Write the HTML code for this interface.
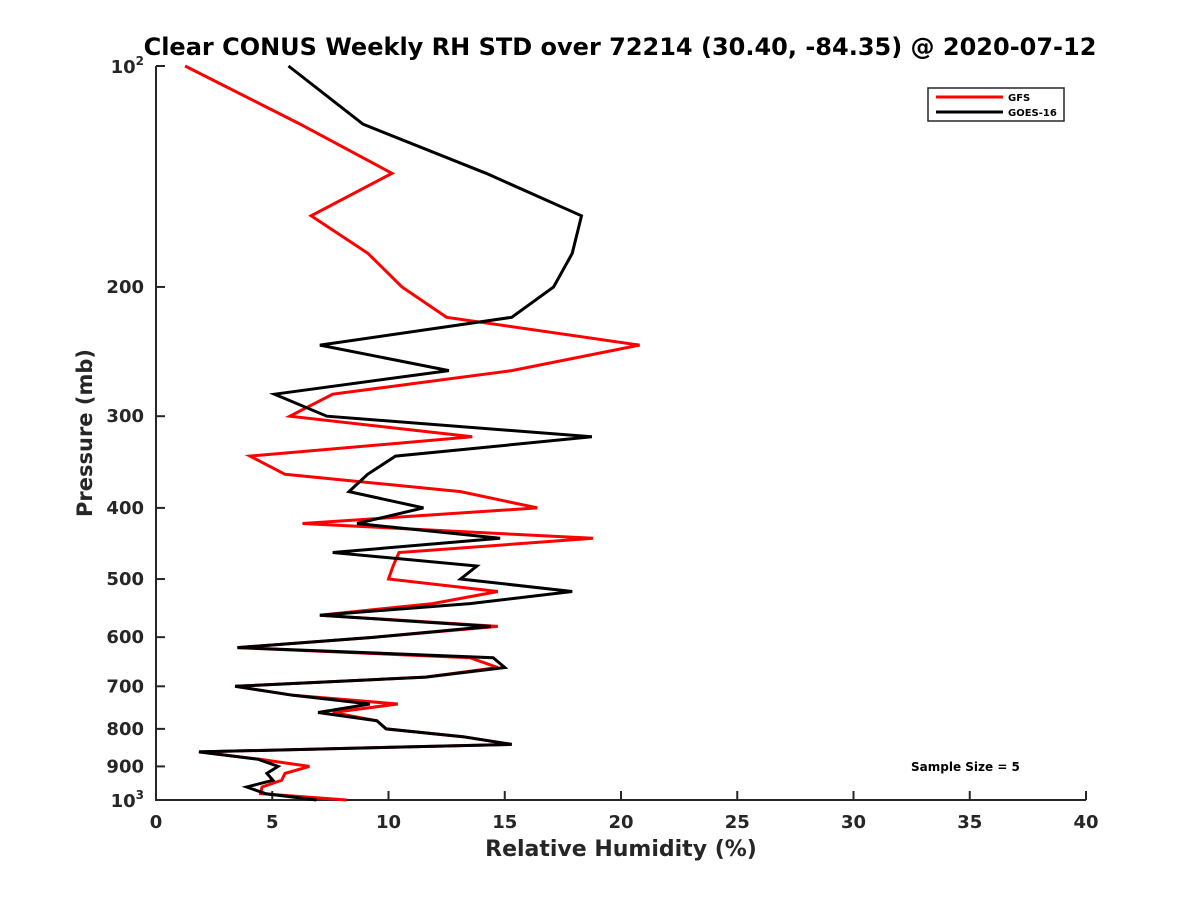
<!DOCTYPE html>
<html><head><meta charset="utf-8"><style>
body{margin:0;background:#fff;}
svg{display:block;font-family:"DejaVu Sans","Liberation Sans",sans-serif;font-weight:bold;}
</style></head><body>
<svg id="chart" width="1200" height="900" xmlns="http://www.w3.org/2000/svg"></svg>
<script>
const pressures=[100,120,140,160,180,200,220,240,260,280,300,320,340,360,380,400,420,440,460,480,500,520,540,560,580,600,620,640,660,680,700,720,740,760,780,800,820,840,860,880,900,920,940,960,980,1000];
const gfsValues=[1.25,6.2,10.15,6.67,9.12,10.58,12.5,20.8,15.3,7.6,5.76,13.6,4.04,5.55,13.1,16.4,6.3,18.8,10.45,10.2,10.0,14.7,11.9,7.05,14.7,9.4,3.5,13.5,14.7,11.6,3.4,5.9,10.4,7.6,9.5,9.9,13.2,15.3,1.85,4.47,6.6,5.55,5.4,4.56,4.5,8.2];
const goesValues=[5.7,8.9,14.2,18.3,17.9,17.1,15.3,7.05,12.6,5.1,7.35,18.75,10.3,9.1,8.3,11.5,8.65,14.8,7.6,13.8,13.1,17.9,13.5,7.05,14.4,9.4,3.5,14.5,15.0,11.6,3.4,5.9,9.2,6.97,9.5,9.9,13.2,15.3,1.85,4.4,5.25,4.77,5.03,3.9,4.7,6.9];
const xTicks=[0,5,10,15,20,25,30,35,40];
const yTicks=[200,300,400,500,600,700,800,900];

const NS="http://www.w3.org/2000/svg";
const svg=document.getElementById('chart');
const L=156,R=1086,T=66,B=800;
const xs=v=>L+(v-0)/(40-0)*(R-L);
const ys=p=>T+(Math.log10(p)-2)*(B-T);
function mk(tag,attrs,parent){const e=document.createElementNS(NS,tag);for(const k in attrs)e.setAttribute(k,attrs[k]);(parent||svg).appendChild(e);return e;}

let t=mk('text',{x:620,y:55,'text-anchor':'middle','font-size':24,fill:'#000'});


t.textContent='Clear CONUS Weekly RH STD over 72214 (30.40, -84.35) @ 2020-07-12';

const ax=mk('g',{stroke:'#262626','stroke-width':2,fill:'none'});


mk('line',{x1:L,y1:T,x2:L,y2:B+1},ax);
mk('line',{x1:L-1,y1:B,x2:R,y2:B},ax);
xTicks.forEach(v=>{
  mk('line',{x1:xs(v),y1:B,x2:xs(v),y2:B-9},ax);
  const l=mk('text',{x:xs(v),y:B+28,'text-anchor':'middle','font-size':18,fill:'#262626'});
  
  
  l.textContent=v;
});
[100].concat(yTicks,[1000]).forEach(p=>{
  mk('line',{x1:L,y1:ys(p),x2:L+9,y2:ys(p)},ax);
});
yTicks.forEach(p=>{
  const l=mk('text',{x:L-12,y:ys(p)+6,'text-anchor':'end','font-size':18,fill:'#262626'});
  
  
  l.textContent=p;
});
[[100,'2'],[1000,'3']].forEach(([p,e])=>{
  const l=mk('text',{x:L-12,y:ys(p)+7,'text-anchor':'end','font-size':18,fill:'#262626'});
  
  
  l.innerHTML='10<tspan dy="-8" font-size="12">'+e+'</tspan>';
});
let xl=mk('text',{x:621,y:856,'text-anchor':'middle','font-size':22,fill:'#262626'});


xl.textContent='Relative Humidity (%)';
let yl=mk('text',{x:92,y:433,'text-anchor':'middle','font-size':21,fill:'#262626',transform:'rotate(-90 92 433)'});


yl.textContent='Pressure (mb)';

function series(vals,color,name){
  const d=vals.map((v,i)=>(i?'L':'M')+xs(v).toFixed(1)+','+ys(pressures[i]).toFixed(1)).join(' ');
  const p=mk('path',{d:d,fill:'none',stroke:color,'stroke-width':3,'stroke-linejoin':'miter'});
  
  
}
series(gfsValues,'#ff0000','gfs-line');
series(goesValues,'#000000','goes16-line');

const lg=mk('g',{});


mk('rect',{x:928,y:88,width:136,height:33,fill:'#fff',stroke:'#262626','stroke-width':1.5},lg);
mk('line',{x1:936,y1:97,x2:1003,y2:97,stroke:'#ff0000','stroke-width':3},lg);
mk('line',{x1:936,y1:112,x2:1003,y2:112,stroke:'#000','stroke-width':3},lg);
let g1=mk('text',{x:1008,y:101,'font-size':10,fill:'#000'},lg);


g1.textContent='GFS';
let g2=mk('text',{x:1008,y:116,'font-size':10,fill:'#000'},lg);


g2.textContent='GOES-16';

let ss=mk('text',{x:911,y:771,'font-size':12,fill:'#000'});


ss.textContent='Sample Size = 5';
</script>
</body></html>
